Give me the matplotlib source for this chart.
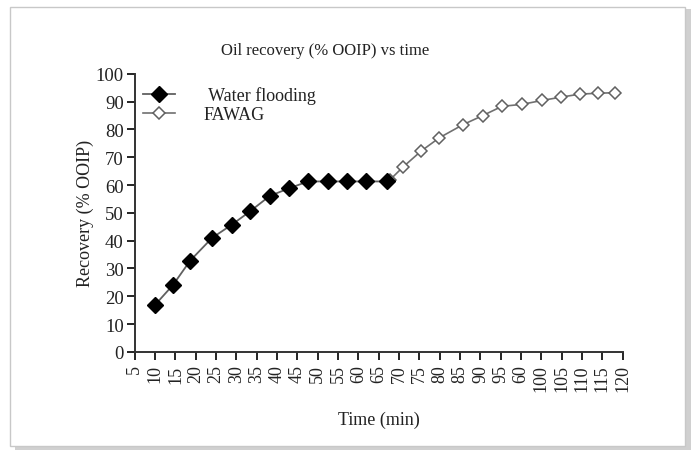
import numpy as np
import matplotlib
matplotlib.use('Agg')
import matplotlib.pyplot as plt
from matplotlib.patches import Rectangle

plt.rcParams['font.family'] = ['Liberation Serif', 'DejaVu Serif']

# Etiquetas del eje x (tal como aparecen, con el "60" repetido)
tick_labels = ['5', '10', '15', '20', '25', '30', '35', '40', '45', '50',
               '55', '60', '65', '70', '75', '80', '85', '90', '95', '60',
               '100', '105', '110', '115', '120']
tick_pos = [5 + 5 * i for i in range(len(tick_labels))]

# Inyeccion de agua
t_water = [9.9, 14.4, 18.6, 24.0, 28.9, 33.3, 38.2, 42.9, 47.6, 52.4, 57.2, 61.8, 67.0]
r_water = [16.8, 24.1, 32.8, 41.0, 45.8, 50.5, 56.1, 58.8, 61.3, 61.3, 61.3, 61.3, 61.3]

# FAWAG
t_fawag = [67.7, 70.9, 75.4, 79.9, 85.7, 90.6, 95.3, 100.2, 105.1, 109.8, 114.5, 118.9, 123.0]
r_fawag = [61.8, 66.4, 72.2, 77.0, 81.7, 85.0, 88.3, 89.0, 90.4, 91.6, 92.7, 93.0, 93.2]

fig = plt.figure(figsize=(6.95, 4.56), dpi=100)

# marco con sombra
fig.patches.append(Rectangle((0.022, 0.012), 0.972, 0.965, transform=fig.transFigure,
                             facecolor='#d0d0d0', edgecolor='none', zorder=-2))
fig.patches.append(Rectangle((0.014, 0.02), 0.972, 0.962, transform=fig.transFigure,
                             facecolor='white', edgecolor='#c8c8c8', lw=1, zorder=-1))

ax = fig.add_axes([0.194, 0.226, 0.702, 0.61])

ax.plot(t_fawag, r_fawag, color='#707070', lw=1.2, marker='D', markersize=6.5,
        markerfacecolor='white', markeredgecolor='#606060', markeredgewidth=1.1,
        label='FAWAG', zorder=2)
ax.plot(t_water, r_water, color='#606060', lw=1.3, marker='D', markersize=8.5,
        markerfacecolor='black', markeredgecolor='black', label=' Water flooding', zorder=3)

ax.set_xlim(5, 125)
ax.set_ylim(0, 100)
ax.set_xticks(tick_pos)
ax.set_xticklabels(tick_labels, rotation=90, fontsize=13)
ax.set_yticks(np.arange(0, 101, 10))
ax.tick_params(axis='y', labelsize=13.5, length=6, width=1.2, pad=2, labelcolor='#222222')
ax.tick_params(axis='x', length=6, width=1.2, pad=3, labelcolor='#222222')

for s in ['top', 'right']:
    ax.spines[s].set_visible(False)
for s in ['left', 'bottom']:
    ax.spines[s].set_linewidth(1.4)
    ax.spines[s].set_color('#333333')

ax.set_xlabel('Time (min)', fontsize=13, labelpad=14, color='#222222')
ax.set_ylabel('Recovery (% OOIP)', fontsize=13, labelpad=1, color='#222222')
fig.text(0.468, 0.88, 'Oil recovery (% OOIP) vs time', fontsize=12, ha='center',
         color='#222222')

h, l = ax.get_legend_handles_labels()
ax.legend(h[::-1], l[::-1], loc='upper left', frameon=False, fontsize=13,
          bbox_to_anchor=(-0.01, 1.0), handlelength=1.8, handletextpad=1.6,
          labelspacing=0.1, borderpad=0.2, labelcolor='#222222')

fig.savefig('out.png', dpi=100)
